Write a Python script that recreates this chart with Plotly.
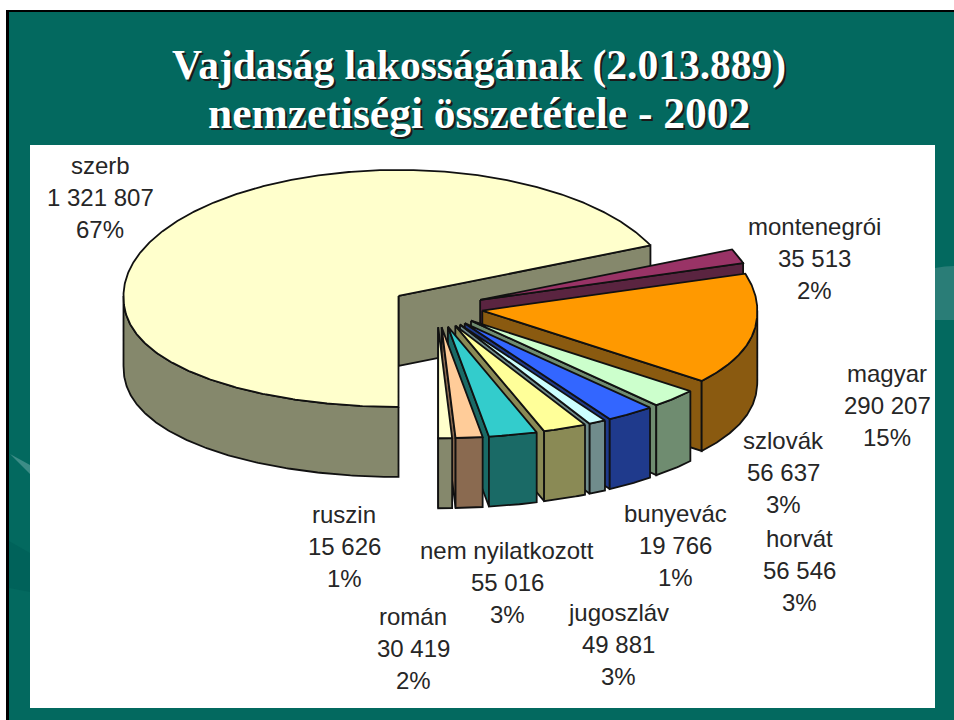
import numpy as np
import plotly.graph_objects as go

# ---- data ----
categories = ["szerb", "montenegrói", "magyar", "szlovák", "horvát", "bunyevác",
              "jugoszláv", "nem nyilatkozott", "román", "ruszin"]
population = [1321807, 35513, 290207, 56637, 56546, 19766, 49881, 55016, 30419, 15626]
percent_labels = ["67%", "2%", "15%", "3%", "3%", "1%", "3%", "3%", "2%", "1%"]
title_lines = ["Vajdaság lakosságának (2.013.889)", "nemzetiségi összetétele - 2002"]

# ---- style ----
top_colors = ["#FFFFCC", "#993366", "#FF9900", "#CCFFCC", "#3366FF", "#CCFFFF",
              "#FFFF99", "#33CCCC", "#FFCC99", "#FFFFCC"]
wall_colors = ["#85886C", "#5A2440", "#8A5A10", "#6F8C70", "#1F3A8C", "#708C8C",
               "#8A8A55", "#1A6A66", "#8A6A50", "#85886C"]
label_pos = [(100, 165), (814, 226), (887, 373), (783, 440), (799, 538),
             (675, 513), (618, 612), (507, 550), (413, 616), (344, 514)]
title_style = [(65, 41.5), (113, 43.5)]
LINE_GAP = 32
CX, CY = 437, 307        # pie centre on the page
RX, RY_BACK, RY_FRONT = 275, 126, 111
DEPTH = 70
PULL, TILT = 46, 0.44
START = 180.0            # degrees clockwise from north


def apex(mid):
    a = np.radians(mid)
    return CX + PULL * np.sin(a), CY - PULL * TILT * np.cos(a)


def rim(ax, ay, deg):
    a = np.radians(np.asarray(deg, dtype=float))
    c = np.cos(a)
    front = RY_FRONT * np.abs(c) ** 0.9
    return ax + RX * np.sin(a), ay - np.where(c > 0, RY_BACK * c, -front)


def poly(fig, xs, ys, fill, name):
    fig.add_trace(go.Scatter(x=list(xs), y=list(ys), mode="lines", fill="toself",
                             fillcolor=fill, line=dict(color="#111111", width=1.8),
                             name=name, hoverinfo="name", showlegend=False))


fig = go.Figure()
total = sum(population)
angle = START
for name, val, top, wall in zip(categories, population, top_colors, wall_colors):
    sweep = 360.0 * val / total
    a0, a1 = angle, angle + sweep
    angle = a1
    ax, ay = apex((a0 + a1) / 2)
    arc = np.linspace(a0, a1, max(int(sweep * 2), 6))
    ex, ey = rim(ax, ay, [a1])
    # cut wall at the clockwise end of the slice
    poly(fig, [ax, ex[0], ex[0], ax, ax], [ay, ey[0], ey[0] + DEPTH, ay + DEPTH, ay], wall, name)
    # outer rim wall, where it faces the viewer
    for lo, hi in ((a0, a1), (a0 - 360, a1 - 360)):
        l, h = max(lo, 90), min(hi, 270)
        if h > l:
            w = np.linspace(l, h, max(int(h - l) * 2, 6))
            wx, wy = rim(ax, ay, w)
            poly(fig, np.r_[wx, wx[::-1], wx[0]], np.r_[wy, wy[::-1] + DEPTH, wy[0]], wall, name)
    # top face
    tx, ty = rim(ax, ay, arc)
    poly(fig, np.r_[ax, tx, ax], np.r_[ay, ty, ay], top, name)

ann = []
for name, val, pct, (lx, ly) in zip(categories, population, percent_labels, label_pos):
    lines = [name, f"{val:,}".replace(",", " "), pct]
    for i, t in enumerate(lines):
        ann.append(dict(x=lx, y=ly + i * LINE_GAP, text=t, showarrow=False, xref="x", yref="y",
                        xanchor="center", yanchor="middle",
                        font=dict(family="Liberation Sans", size=24, color="#262626")))
for t, (ty, fs) in zip(title_lines, title_style):
    ann.append(dict(x=479, y=ty, text=f"<b>{t}</b>", showarrow=False, xref="x", yref="y",
                    xanchor="center", yanchor="middle",
                    font=dict(family="Liberation Serif", size=fs, color="#FFFFFF",
                              shadow="2px 2px 0px #1a1a1a")))

shapes = [
    dict(type="rect", layer="below", x0=0, x1=954, y0=0, y1=10, fillcolor="#FFFFFF", line_width=0),
    dict(type="rect", layer="below", x0=0, x1=6, y0=0, y1=720, fillcolor="#FFFFFF", line_width=0),
    dict(type="rect", layer="below", x0=6, x1=954, y0=10, y1=12, fillcolor="#000000", line_width=0),
    dict(type="rect", layer="below", x0=6, x1=9, y0=10, y1=720, fillcolor="#000000", line_width=0),
    # faint background swooshes of the slide template
    dict(type="path", layer="below", path="M 10 454 L 30 465 L 30 474 Z", fillcolor="#3C8C86", line_width=0),
    dict(type="path", layer="below", path="M 9 541 L 30 553 L 30 592 L 9 588 Z", fillcolor="#00625A", line_width=0),
    dict(type="path", layer="below", path="M 935 268 Q 945 266 954 266 L 954 320 L 935 320 Z",
         fillcolor="#2A7D77", line_width=0),
    dict(type="rect", layer="below", x0=30, x1=935, y0=145, y1=708, fillcolor="#FFFFFF", line_width=0),
]

fig.update_layout(
    width=954, height=720, autosize=False, margin=dict(l=0, r=0, t=0, b=0),
    paper_bgcolor="#03695F", plot_bgcolor="rgba(0,0,0,0)", showlegend=False,
    xaxis=dict(range=[0, 954], visible=False, fixedrange=True),
    yaxis=dict(range=[720, 0], visible=False, fixedrange=True),
    annotations=ann, shapes=shapes,
)
fig.write_html("out.html", config={"displayModeBar": False},
               post_script="document.body.style.margin='0';")
